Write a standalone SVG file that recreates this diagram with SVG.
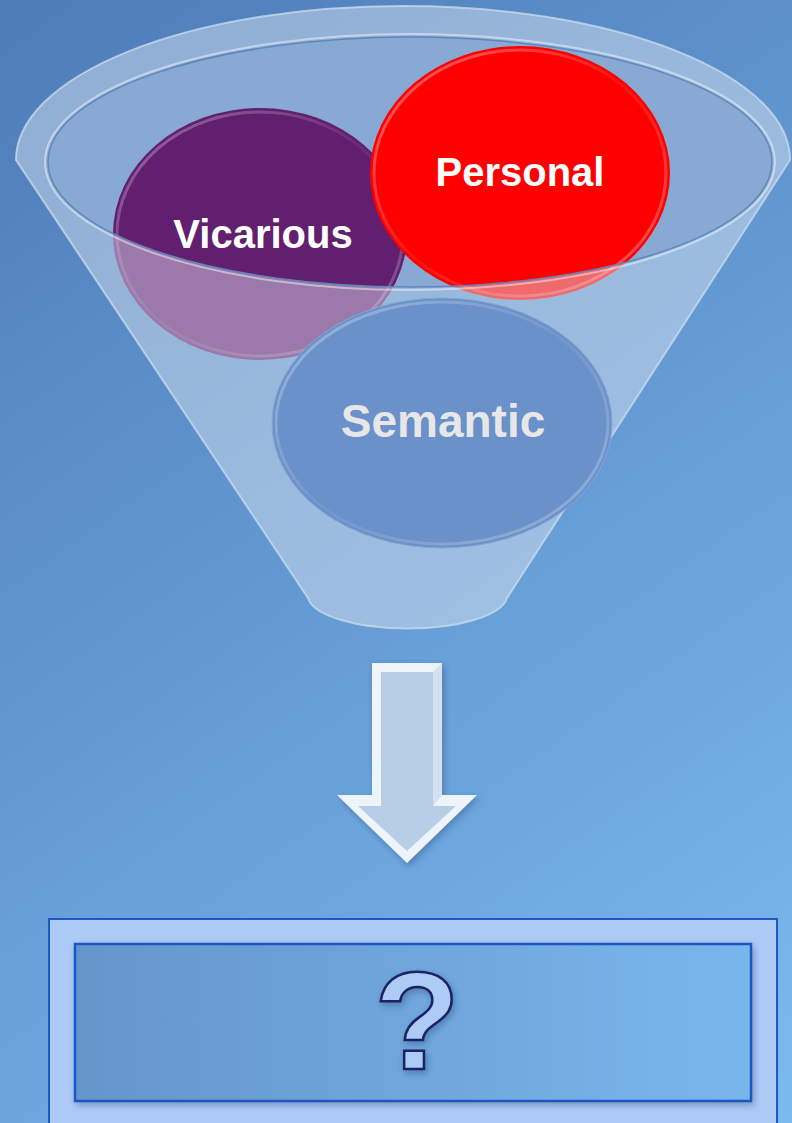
<svg xmlns="http://www.w3.org/2000/svg" width="792" height="1123" viewBox="0 0 792 1123">
<defs>
<linearGradient id="bg" x1="0" y1="0" x2="792" y2="1123" gradientUnits="userSpaceOnUse">
<stop offset="0" stop-color="#4e7cb8"/>
<stop offset="1" stop-color="#7bbaef"/>
</linearGradient>
<linearGradient id="inner" x1="0" y1="0" x2="1" y2="0">
<stop offset="0" stop-color="#6596cb"/>
<stop offset="1" stop-color="#79b6ec"/>
</linearGradient>
<linearGradient id="bevel" x1="0" y1="0" x2="1" y2="1">
<stop offset="0" stop-color="#ffffff" stop-opacity="0.7"/>
<stop offset="0.5" stop-color="#ffffff" stop-opacity="0.1"/>
<stop offset="1" stop-color="#ffffff" stop-opacity="0.6"/>
</linearGradient>
<mask id="wallMask" maskUnits="userSpaceOnUse" x="0" y="0" width="792" height="1123">
<path d="M16,160 A387,154 0 0 1 790,160 L507,598 A100,34 0 0 1 308,598 Z" fill="#fff"/>
<ellipse cx="410" cy="162" rx="362" ry="125" fill="#000"/>
</mask>
<filter id="sh" x="-20%" y="-20%" width="140%" height="140%">
<feDropShadow dx="2" dy="3" stdDeviation="3" flood-color="#1a3060" flood-opacity="0.35"/>
</filter>
<style>
.lbl{font-family:"Liberation Sans",Arial,sans-serif;font-weight:bold;text-anchor:middle}
</style>
</defs>
<rect width="792" height="1123" fill="url(#bg)"/>

<g id="funnel-back">
<ellipse cx="410" cy="162" rx="362" ry="125" fill="#87a9d3"/>
</g>

<g id="vicarious">
<ellipse cx="260" cy="234" rx="147" ry="126" fill="#621e6f"/>
<ellipse cx="260" cy="234" rx="143" ry="122" fill="none" stroke="url(#bevel)" stroke-width="3" opacity="0.5"/>
<text class="lbl" x="263" y="248" font-size="40" fill="#ffffff">Vicarious</text>
</g>

<g id="personal">
<ellipse cx="520" cy="173" rx="150" ry="127" fill="#ff0000"/>
<ellipse cx="520" cy="173" rx="146" ry="123" fill="none" stroke="url(#bevel)" stroke-width="3" opacity="0.6"/>
<text class="lbl" x="520" y="186" font-size="40" fill="#ffffff">Personal</text>
</g>

<g id="funnel-front">
<rect width="792" height="1123" fill="#e0e8f2" opacity="0.45" mask="url(#wallMask)"/>
<path d="M16,160 A387,154 0 0 1 790,160 L507,598 A100,34 0 0 1 308,598 Z" fill="none" stroke="#c8daee" stroke-width="2" opacity="0.8"/>
<ellipse cx="410" cy="162" rx="365" ry="128" fill="none" stroke="#ffffff" stroke-width="2" opacity="0.45"/>
<ellipse cx="410" cy="162" rx="362" ry="125" fill="none" stroke="#5f86b9" stroke-width="1.5"/>
</g>

<g id="semantic">
<ellipse cx="442" cy="423" rx="170" ry="125" fill="#6a91c9" stroke="#86a6d0" stroke-width="1"/>
<ellipse cx="442" cy="423" rx="166" ry="121" fill="none" stroke="url(#bevel)" stroke-width="3" opacity="0.5"/>
<text class="lbl" x="443" y="437" font-size="46" fill="#e7e7e7">Semantic</text>
</g>

<g id="arrow" filter="url(#sh)">
<polygon points="372,663 442,663 442,795 477,795 407,863 337,795 372,795" fill="#eef4fb"/>
<polygon points="381,672 433,672 433,806 456,806 407,851 358,806 381,806" fill="#b8cde6"/>
<polygon points="442,663 442,795 433,806 433,672" fill="#d3e1f1"/>
</g>

<g id="result">
<rect x="49" y="919" width="728" height="230" fill="#adcaf6" stroke="#1f58c0" stroke-width="2"/>
<rect x="75" y="944" width="676" height="157" fill="url(#inner)" stroke="#1a56c2" stroke-width="2.5" filter="url(#sh)"/>
<text x="417" y="1069" font-family="Liberation Sans,Arial,sans-serif" font-weight="bold" font-size="140" text-anchor="middle" fill="#aecbf6" stroke="#1b2466" stroke-width="2.5" filter="url(#sh)">?</text>
</g>
</svg>
